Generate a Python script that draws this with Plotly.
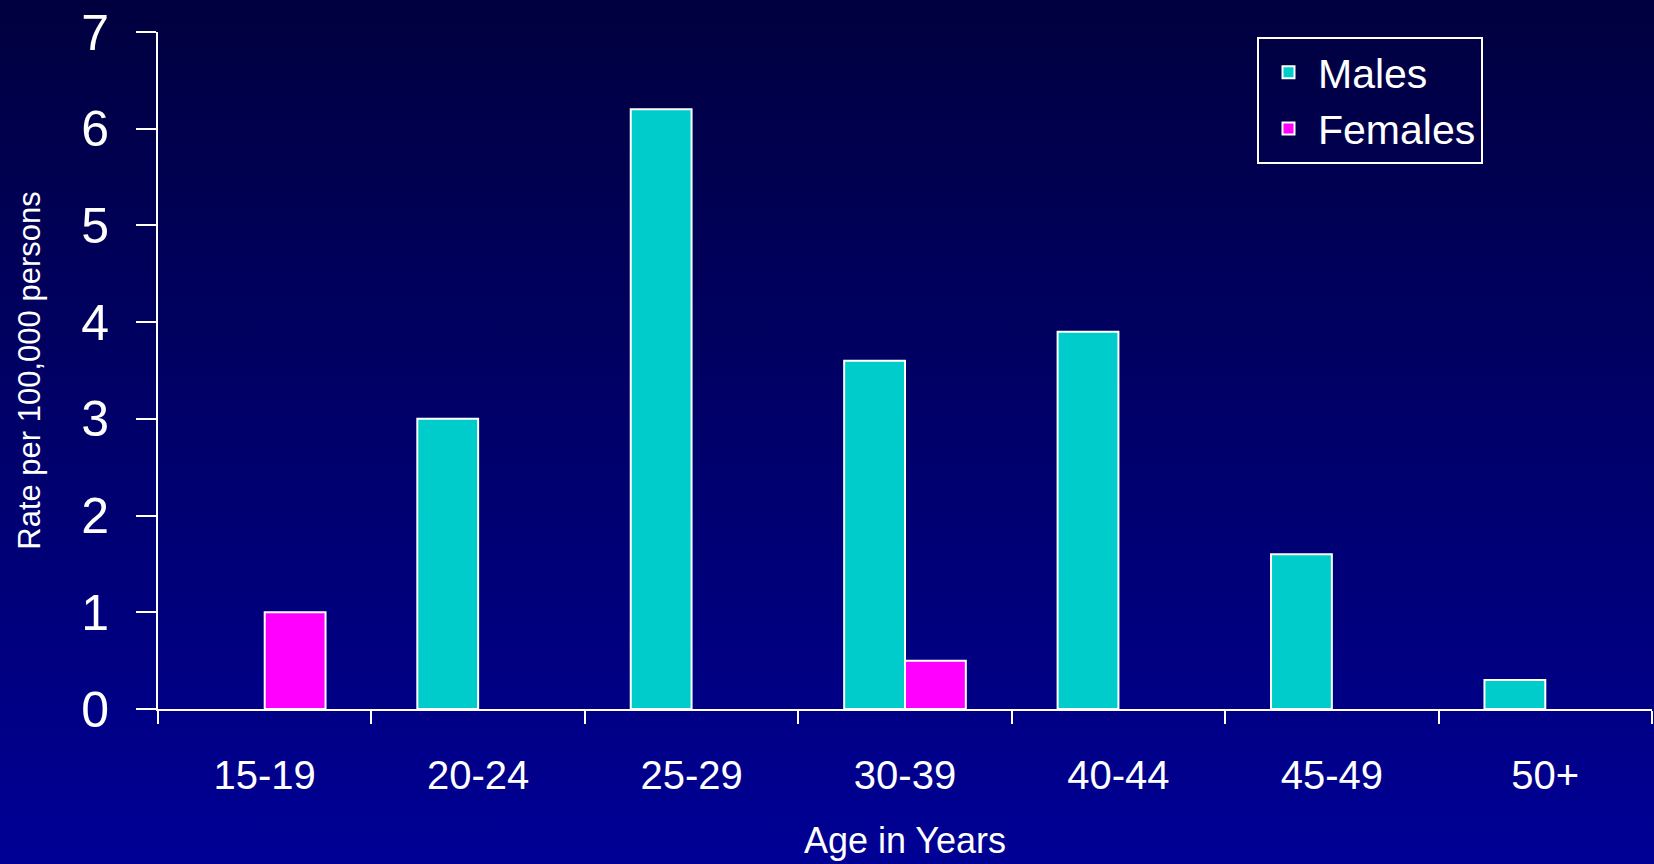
import base64
import plotly.graph_objects as go

categories = ["15-19", "20-24", "25-29", "30-39", "40-44", "45-49", "50+"]
males = [None, 3.0, 6.2, 3.6, 3.9, 1.6, 0.3]
females = [1.0, None, None, 0.5, None, None, None]
y_ticks = [0, 1, 2, 3, 4, 5, 6, 7]

W, H = 1654, 864
L, R, T, B = 158, 2, 32, 155
pw, ph = W - L - R, H - T - B

svg = (
    '<svg xmlns="http://www.w3.org/2000/svg" width="100" height="100" preserveAspectRatio="none">'
    '<defs><linearGradient id="g" x1="0" y1="0" x2="0" y2="1">'
    '<stop offset="0" stop-color="#00003f"/><stop offset="1" stop-color="#000095"/>'
    '</linearGradient></defs><rect width="100" height="100" fill="url(#g)"/></svg>'
)
bg_uri = "data:image/svg+xml;base64," + base64.b64encode(svg.encode()).decode()

font = "Liberation Sans, Arial, sans-serif"

fig = go.Figure()
fig.add_trace(go.Bar(x=categories, y=males, name="Males", legendgroup="m",
                     marker=dict(color="#00cccc", line=dict(color="white", width=2))))
fig.add_trace(go.Bar(x=categories, y=females, name="Females", legendgroup="f",
                     marker=dict(color="#ff00ff", line=dict(color="white", width=2))))

fig.update_layout(
    width=W, height=H,
    margin=dict(l=L, r=R, t=T, b=B, autoexpand=False),
    paper_bgcolor="#00006c",
    plot_bgcolor="rgba(0,0,0,0)",
    barmode="group", bargap=0.43, bargroupgap=0,
    images=[dict(source=bg_uri, xref="paper", yref="paper",
                 x=-L / pw, y=1 + T / ph, sizex=W / pw, sizey=H / ph,
                 sizing="stretch", xanchor="left", yanchor="top", layer="below")],
    legend=dict(x=(1257 - L) / pw, y=(H - B - 37) / ph, xanchor="left", yanchor="top",
                bgcolor="rgba(0,0,0,0)", bordercolor="white", borderwidth=2,
                font=dict(family=font, size=41, color="white"),
                itemwidth=49, tracegroupgap=8, traceorder="normal"),
    xaxis=dict(type="category", tickson="boundaries", ticks="outside", ticklen=13,
               tickwidth=2, tickcolor="white", showline=True, linecolor="white",
               linewidth=2, showgrid=False, zeroline=False,
               tickfont=dict(family=font, size=40, color="white"),
               ticklabelstandoff=30,
               title=dict(text="Age in Years", font=dict(family=font, size=36, color="white"),
                          standoff=32)),
    yaxis=dict(range=[0, 7], tickvals=y_ticks, ticks="outside", ticklen=20,
               tickwidth=2, tickcolor="white", showline=True, linecolor="white",
               linewidth=2, showgrid=False, zeroline=False,
               tickfont=dict(family=font, size=50, color="white"),
               ticklabelstandoff=17,
               title=dict(text="Rate per 100,000 persons",
                          font=dict(family=font, size=31, color="white"), standoff=31)),
)

fig.write_html("out.html", config={"displayModeBar": False},
               post_script="document.body.style.margin='0';")
